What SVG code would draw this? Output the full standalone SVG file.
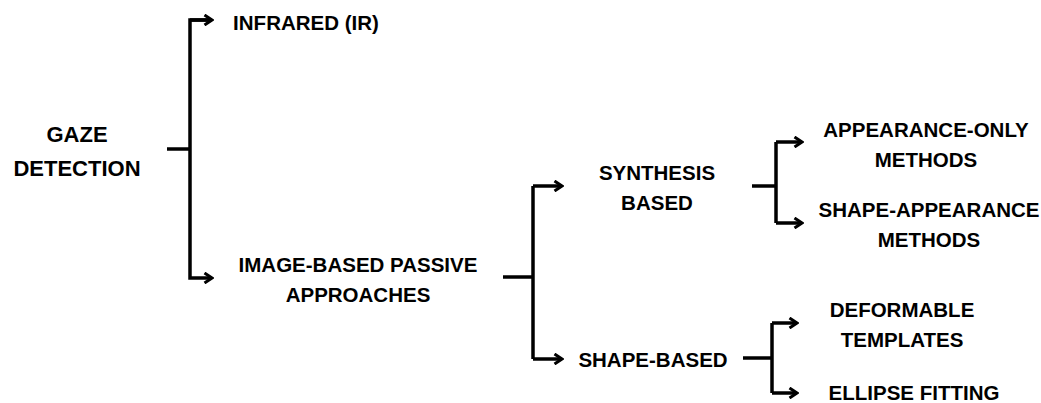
<svg xmlns="http://www.w3.org/2000/svg" width="1041" height="403" viewBox="0 0 1041 403">
<defs>
<style>
.t{font-family:"Liberation Sans",Arial,sans-serif;font-weight:bold;font-size:20.5px;fill:#000;text-anchor:middle}
.big{font-size:22px}
.c{fill:none;stroke:#000;stroke-width:3.5;stroke-linejoin:miter}
</style>
<marker id="ah" viewBox="0 0 12 12" refX="10.5" refY="6" markerWidth="12" markerHeight="12" markerUnits="userSpaceOnUse" orient="auto">
<path d="M3,1 L10.5,6 L3,11" fill="none" stroke="#000" stroke-width="3"/>
</marker>
</defs>
<rect width="1041" height="403" fill="#fff"/>
<g id="connectors">
<path class="c" d="M167,149 H190"/>
<path class="c" d="M212,20 H190 V278 H212" marker-end="url(#ah)"/>
<path class="c" d="M190,20 H212" marker-end="url(#ah)"/>
<path class="c" d="M503,277 H533"/>
<path class="c" d="M533,186 V359"/>
<path class="c" d="M533,186 H562" marker-end="url(#ah)"/>
<path class="c" d="M533,359 H562" marker-end="url(#ah)"/>
<path class="c" d="M752,186 H776"/>
<path class="c" d="M776,142 V223"/>
<path class="c" d="M776,142 H802" marker-end="url(#ah)"/>
<path class="c" d="M776,223 H802" marker-end="url(#ah)"/>
<path class="c" d="M743,358 H772"/>
<path class="c" d="M772,323 V393"/>
<path class="c" d="M772,323 H797" marker-end="url(#ah)"/>
<path class="c" d="M772,393 H797" marker-end="url(#ah)"/>
</g>
<g id="gaze"><text class="t big" x="77" y="142">GAZE</text><text class="t big" x="77" y="176">DETECTION</text></g>
<g id="infrared"><text class="t" x="306" y="30">INFRARED (IR)</text></g>
<g id="image-based"><text class="t" x="358" y="272">IMAGE-BASED PASSIVE</text><text class="t" x="358" y="302">APPROACHES</text></g>
<g id="synthesis"><text class="t" x="657" y="180">SYNTHESIS</text><text class="t" x="657" y="210">BASED</text></g>
<g id="shape-based"><text class="t" x="653" y="367">SHAPE-BASED</text></g>
<g id="appearance-only"><text class="t" x="926" y="137">APPEARANCE-ONLY</text><text class="t" x="926" y="167">METHODS</text></g>
<g id="shape-appearance"><text class="t" x="929" y="217">SHAPE-APPEARANCE</text><text class="t" x="929" y="247">METHODS</text></g>
<g id="deformable"><text class="t" x="902" y="317">DEFORMABLE</text><text class="t" x="902" y="347">TEMPLATES</text></g>
<g id="ellipse"><text class="t" x="914" y="400">ELLIPSE FITTING</text></g>
</svg>
